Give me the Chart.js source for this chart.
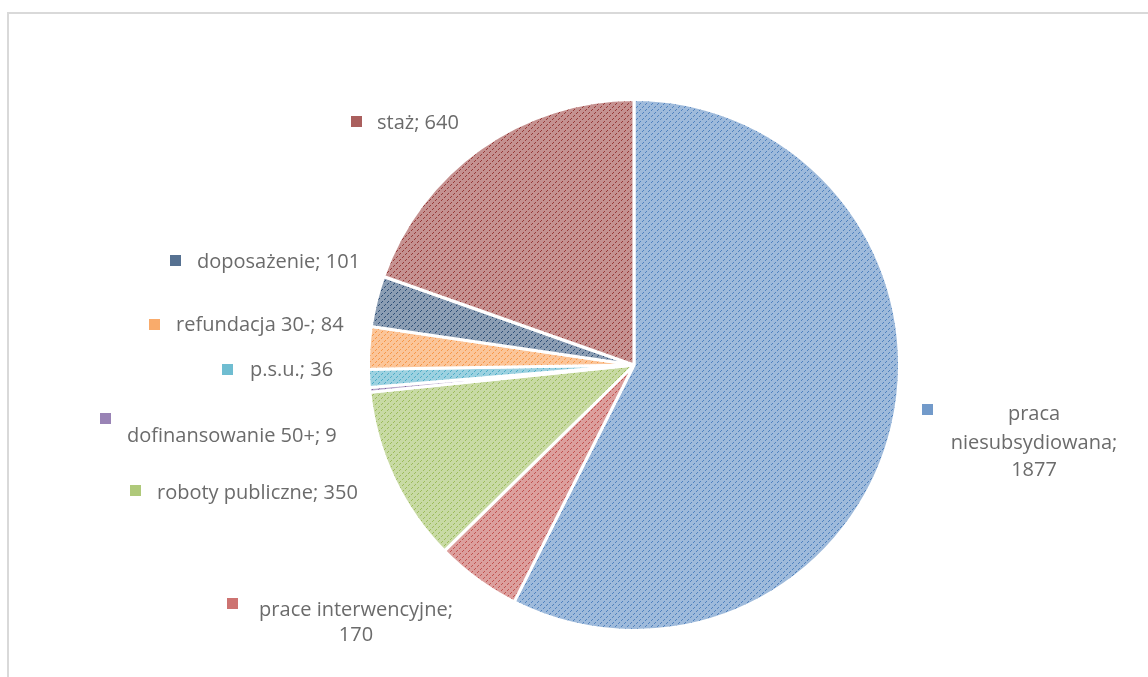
<!DOCTYPE html>
<html lang="pl">
<head>
    <meta charset="utf-8">
    <script src="https://cdn.jsdelivr.net/npm/chart.js/dist/chart.umd.min.js"></script>
    <style>
        body { margin: 0; background: #fff; overflow: hidden; }
        #frame { position: absolute; left: 7px; top: 12px; width: 1200px; height: 700px;
                 border-top: 2px solid #d9d9d9; border-left: 2px solid #d9d9d9; }
        #wrap { position: absolute; left: 0; top: 0; width: 1148px; height: 677px; }
    </style>
</head>
<body>
<div id="frame"></div>
<div id="wrap">
    <canvas id="chart"></canvas>
</div>

<script>
    const categories = ['praca niesubsydiowana', 'prace interwencyjne', 'roboty publiczne', 'dofinansowanie 50+',
        'p.s.u.', 'refundacja 30-', 'doposażenie', 'staż'];
    const values = [1877, 170, 350, 9, 36, 84, 101, 640];
    const baseColors = ['#4F81BD', '#C0504D', '#9BBB59', '#8064A2', '#4BACC6', '#F79646', '#2C4D75', '#953735'];

    // where Excel placed each data label (key square + text)
    const labelLayout = [
        {key: [922, 404], lines: ['praca', 'niesubsydiowana;', '1877'], x: 1034, ys: [414, 443, 470], align: 'center'},
        {key: [227, 598], lines: ['prace interwencyjne;', '170'], x: 356, ys: [610, 635], align: 'center'},
        {key: [130, 485], lines: ['roboty publiczne; 350'], x: 157, ys: [493], align: 'left'},
        {key: [100, 413], lines: ['dofinansowanie 50+; 9'], x: 127, ys: [436], align: 'left'},
        {key: [222, 364], lines: ['p.s.u.; 36'], x: 250, ys: [370], align: 'left'},
        {key: [149, 319], lines: ['refundacja 30-; 84'], x: 176, ys: [325], align: 'left'},
        {key: [170, 255], lines: ['doposażenie; 101'], x: 197, ys: [262], align: 'left'},
        {key: [351, 116], lines: ['staż; 640'], x: 377, ys: [123], align: 'left'}
    ];

    function hexToRgb(hex) {
        const n = parseInt(hex.slice(1), 16);
        return [(n >> 16) & 255, (n >> 8) & 255, n & 255];
    }

    function mix(hex, t) {
        // t = amount of white
        const c = hexToRgb(hex);
        return 'rgb(' + c.map(function(v) { return Math.round(v + (255 - v) * t); }).join(',') + ')';
    }

    function makePattern(hex) {
        const tile = document.createElement('canvas');
        tile.width = 6;
        tile.height = 6;
        const c = tile.getContext('2d');
        c.fillStyle = mix(hex, 0.45);
        c.fillRect(0, 0, 6, 6);
        c.fillStyle = hex;
        for (let i = 0; i < 6; i++) {
            if (i % 3 === 2) continue;
            c.fillRect(i, 5 - i, 1, 1);
        }
        const ctx = document.getElementById('chart').getContext('2d');
        return ctx.createPattern(tile, 'repeat');
    }

    const labelPlugin = {
        id: 'excelLabels',
        afterDraw: function(chart) {
            const ctx = chart.ctx;
            ctx.save();
            ctx.font = '20px "Open Sans"';
            ctx.textBaseline = 'middle';
            labelLayout.forEach(function(l, i) {
                ctx.fillStyle = mix(baseColors[i], 0.2);
                ctx.fillRect(l.key[0], l.key[1], 11, 11);
                ctx.fillStyle = '#6b6b6b';
                ctx.textAlign = l.align;
                l.lines.forEach(function(line, j) {
                    ctx.fillText(line, l.x, l.ys[j]);
                });
            });
            ctx.restore();
        }
    };

    const chart = new Chart(document.getElementById('chart'), {
        type: 'pie',
        data: {
            labels: categories,
            datasets: [{
                data: values,
                backgroundColor: baseColors.map(makePattern),
                borderColor: '#ffffff',
                borderWidth: 3
            }]
        },
        options: {
            responsive: true,
            maintainAspectRatio: false,
            animation: false,
            layout: {padding: {left: 200, right: 80, top: 98, bottom: 45}},
            plugins: {
                legend: {display: false},
                tooltip: {enabled: false}
            }
        },
        plugins: [labelPlugin]
    });
</script>
</body>
</html>
